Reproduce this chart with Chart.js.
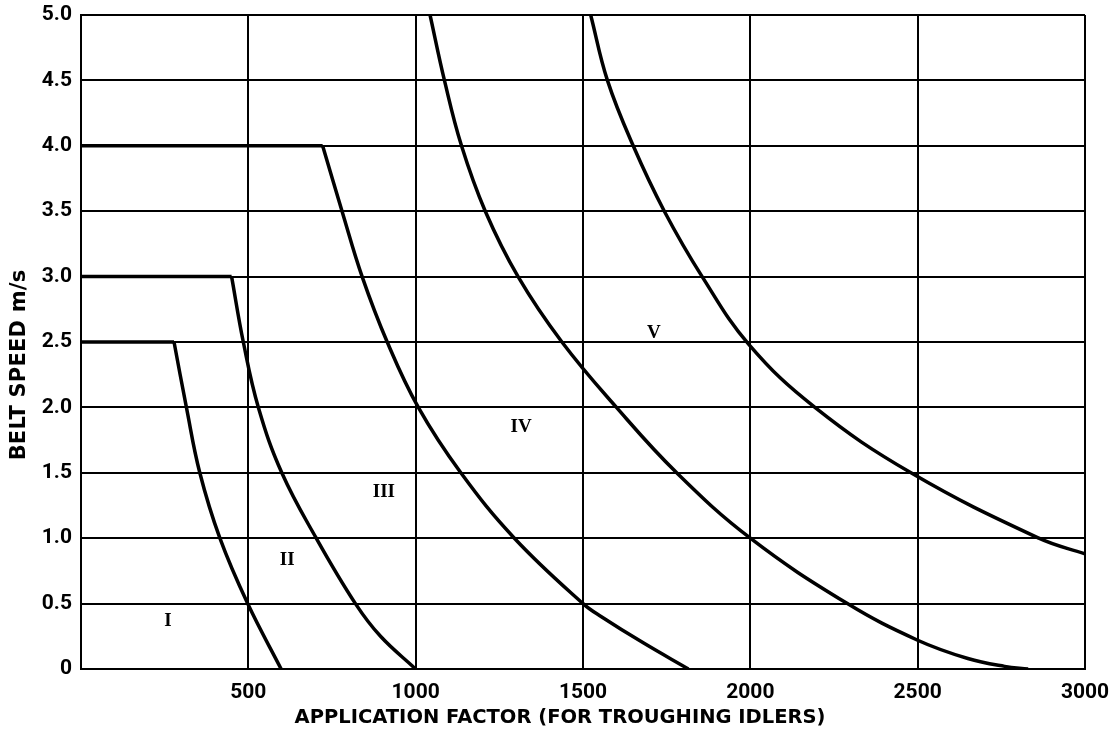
<!DOCTYPE html>
<html>
<head>
<meta charset="utf-8">
<script src="https://cdn.jsdelivr.net/npm/chart.js@4.4.1/dist/chart.umd.min.js"></script>
<style>
  html, body { margin: 0; padding: 0; background: #fff; }
  #wrap { width: 1113px; height: 735px; }
</style>
</head>
<body>
<div id="wrap"><canvas id="chart"></canvas></div>
<script>
// curve data (application factor vs belt speed)
const curveI_x   = [0, 278, 315, 355, 415, 498, 598];
const curveI_y   = [2.5, 2.5, 2.0, 1.5, 1.0, 0.5, 0];
const curveII_x  = [0, 450, 485, 530, 600, 703, 820, 895, 1000];
const curveII_y  = [3.0, 3.0, 2.5, 2.0, 1.5, 1.0, 0.5, 0.25, 0];
const curveIII_x = [0, 722, 780, 840, 915, 1008, 1135, 1295, 1500, 1555, 1680, 1815];
const curveIII_y = [4.0, 4.0, 3.5, 3.0, 2.5, 2.0, 1.5, 1.0, 0.5, 0.4, 0.2, 0];
const curveIV_x  = [1043, 1086, 1137, 1208, 1306, 1437, 1600, 1780, 2000, 2290, 2500, 2650, 2760, 2830];
const curveIV_y  = [5.0, 4.5, 4.0, 3.5, 3.0, 2.5, 2.0, 1.5, 1.0, 0.5, 0.22, 0.08, 0.02, 0];
const curveV_x   = [1523, 1573, 1650, 1743, 1856, 1996, 2193, 2480, 2862, 3000];
const curveV_y   = [5.0, 4.5, 4.0, 3.5, 3.0, 2.48, 2.0, 1.5, 1.0, 0.88];

// roman numeral region labels
const regionNames = ["I", "II", "III", "IV", "V"];
const regionX     = [260, 616, 905, 1315, 1712];
const regionY     = [0.37, 0.83, 1.35, 1.85, 2.57];

const X_TITLE = "APPLICATION FACTOR (FOR TROUGHING IDLERS)";
const Y_TITLE = "BELT SPEED m/s";
const FONT = "'DejaVu Sans', sans-serif";
const TICK_FONT = "Roboto, 'DejaVu Sans', sans-serif";

const pts = (xs, ys) => xs.map((x, i) => ({ x, y: ys[i] }));

// flat part gets a straight segment so the corner stays sharp
function curveSets(xs, ys, flat) {
  const base = { showLine: true, pointRadius: 0, borderColor: "#000", borderWidth: 3.5, fill: false };
  if (!flat) return [{ ...base, data: pts(xs, ys), tension: 0.4 }];
  return [
    { ...base, data: pts(xs.slice(0, 2), ys.slice(0, 2)) },
    { ...base, data: pts(xs.slice(1), ys.slice(1)), tension: 0.4 }
  ];
}

const labelsPlugin = {
  id: "labels",
  afterDraw(chart) {
    const { ctx, chartArea: a, scales: { x, y } } = chart;
    ctx.save();
    ctx.fillStyle = "#000";
    ctx.textAlign = "center";
    ctx.textBaseline = "middle";
    ctx.font = `bold 19.5px ${FONT}`;
    ctx.fillText(X_TITLE, a.left + 479, a.bottom + 49);
    ctx.save();
    ctx.font = `bold 21px ${FONT}`;
    ctx.letterSpacing = "0.2px";
    ctx.translate(20, a.top + 350);
    ctx.rotate(-Math.PI / 2);
    ctx.fillText(Y_TITLE, 0, 0);
    ctx.restore();
    ctx.font = "bold 19px 'Liberation Serif', serif";
    regionNames.forEach((n, i) => {
      ctx.fillText(n, x.getPixelForValue(regionX[i]), y.getPixelForValue(regionY[i]));
    });
    ctx.restore();
  }
};

new Chart(document.getElementById("chart"), {
  type: "scatter",
  data: {
    datasets: [
      ...curveSets(curveI_x, curveI_y, true),
      ...curveSets(curveII_x, curveII_y, true),
      ...curveSets(curveIII_x, curveIII_y, true),
      ...curveSets(curveIV_x, curveIV_y, false),
      ...curveSets(curveV_x, curveV_y, false)
    ]
  },
  options: {
    responsive: true,
    maintainAspectRatio: false,
    animation: false,
    devicePixelRatio: 1,
    layout: { padding: { top: 15, right: 28, left: 0, bottom: 0 } },
    plugins: { legend: { display: false }, tooltip: { enabled: false } },
    scales: {
      x: {
        type: "linear", min: 0, max: 3000,
        afterFit: s => { s.height = 66; s.paddingLeft = 0; s.paddingRight = 0; },
        grid: { color: "#000", lineWidth: 2, drawTicks: false },
        border: { color: "#000", width: 2 },
        ticks: {
          stepSize: 500, padding: 11, color: "#000",
          font: { family: TICK_FONT, weight: "bold", size: 21 },
          callback: v => (v === 0 ? "" : v)
        }
      },
      y: {
        type: "linear", min: 0, max: 5,
        afterFit: s => { s.width = 81; s.paddingTop = 0; s.paddingBottom = 0; },
        grid: { color: "#000", lineWidth: 2, drawTicks: false },
        border: { color: "#000", width: 2 },
        ticks: {
          stepSize: 0.5, padding: 9, color: "#000",
          font: { family: TICK_FONT, weight: "bold", size: 21 },
          callback: v => (v === 0 ? "0" : v.toFixed(1))
        }
      }
    }
  },
  plugins: [labelsPlugin]
});
</script>
</body>
</html>
